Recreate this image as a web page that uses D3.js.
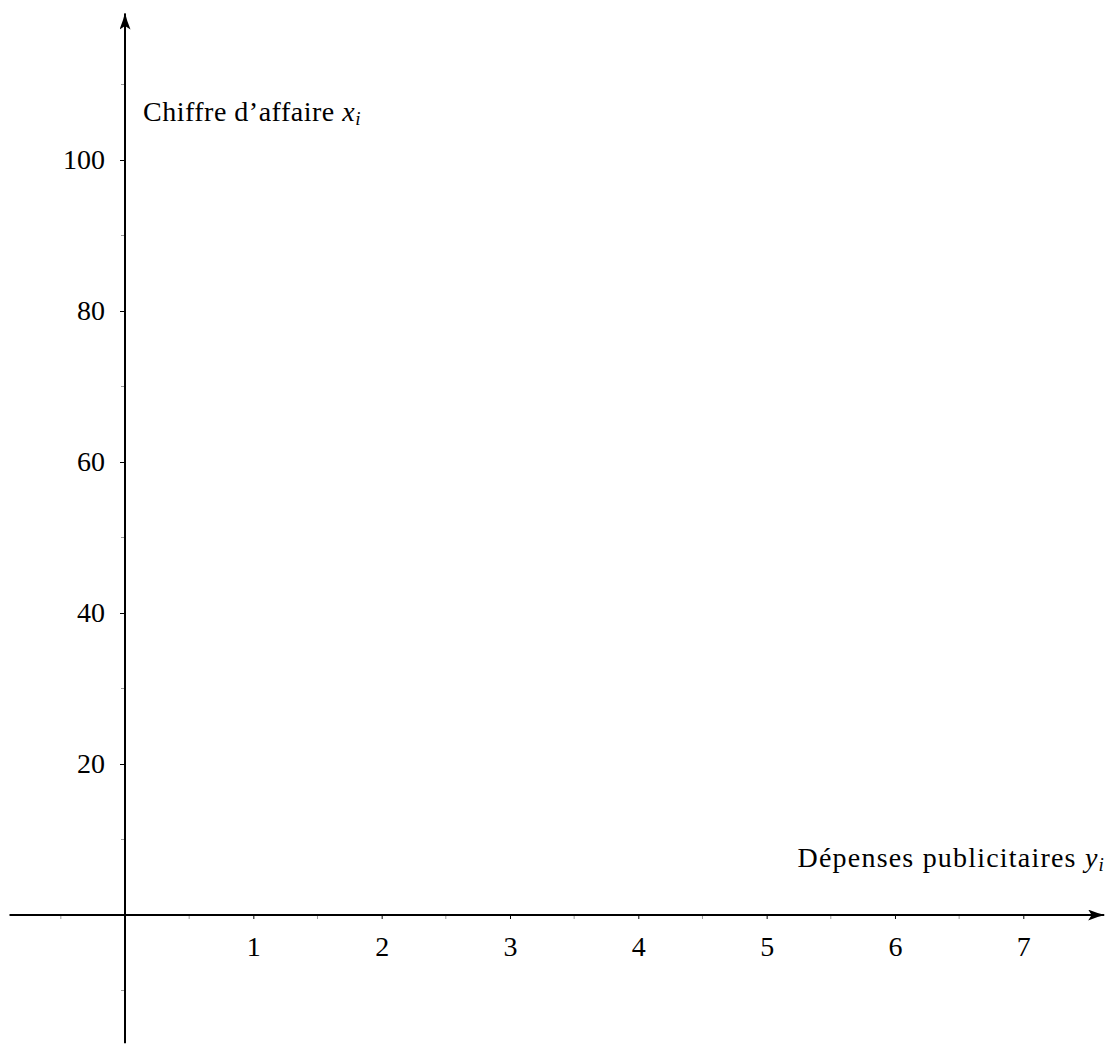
<!DOCTYPE html>
<html>
<head>
<meta charset="utf-8">
<script src="https://cdn.jsdelivr.net/npm/d3@7"></script>
<style>
html,body{margin:0;padding:0;background:#fff;}
svg{display:block;}
text{font-family:"Liberation Serif","DejaVu Serif",serif;fill:#000;}
</style>
</head>
<body>
<svg id="chart" width="1108" height="1044"></svg>
<script>
// Data
const xMajorTicks = [1, 2, 3, 4, 5, 6, 7];
const xMinorTicks = [-0.5, 0.5, 1.5, 2.5, 3.5, 4.5, 5.5, 6.5];
const yMajorTicks = [20, 40, 60, 80, 100];
const yMinorTicks = [-10, 10, 30, 50, 70, 90, 110];
const xDomain = [-0.9, 7.63];
const yDomain = [-17, 119.4];
const xTitle = "Dépenses publicitaires ";
const xTitleVar = "y";
const yTitle = "Chiffre d’affaire ";
const yTitleVar = "x";

const svg = d3.select("#chart");
const x = d3.scaleLinear().domain([0, 7]).range([125, 1023.3]);
const y = d3.scaleLinear().domain([0, 100]).range([915, 160]);

// Arrow marker
const defs = svg.append("defs");
defs.append("marker")
  .attr("id", "arrow")
  .attr("viewBox", "0 0 17 11")
  .attr("refX", 16).attr("refY", 5.5)
  .attr("markerWidth", 17).attr("markerHeight", 11)
  .attr("markerUnits", "userSpaceOnUse")
  .attr("orient", "auto")
  .append("path")
  .attr("d", "M0,0 Q9,3.8 17,5.5 Q9,7.2 0,11 L3.5,5.5 Z")
  .attr("fill", "#000");

// Minor ticks (x)
svg.append("g").selectAll("line").data(xMinorTicks).join("line")
  .attr("x1", d => x(d)).attr("x2", d => x(d))
  .attr("y1", y(0)).attr("y2", y(0) + 4)
  .attr("stroke", "#999").attr("stroke-width", 1);
// Minor ticks (y)
svg.append("g").selectAll("line").data(yMinorTicks).join("line")
  .attr("y1", d => y(d)).attr("y2", d => y(d))
  .attr("x1", x(0) - 4).attr("x2", x(0))
  .attr("stroke", "#999").attr("stroke-width", 1);

// Major axes via d3 axis generators
const xAxis = d3.axisBottom(x).tickValues(xMajorTicks).tickSize(4).tickPadding(17).tickFormat(d3.format("d"));
const gx = svg.append("g").attr("transform", `translate(0,${y(0)})`).call(xAxis);
gx.select(".domain").remove();
gx.selectAll(".tick line").attr("stroke", "#000").attr("stroke-width", 1);
gx.selectAll(".tick text").attr("font-size", 28).attr("font-family", "Liberation Serif").attr("fill", "#000");

const yAxis = d3.axisLeft(y).tickValues(yMajorTicks).tickSize(5).tickPadding(15).tickFormat(d3.format("d"));
const gy = svg.append("g").attr("transform", `translate(${x(0)},0)`).call(yAxis);
gy.select(".domain").remove();
gy.selectAll(".tick line").attr("stroke", "#000").attr("stroke-width", 1);
gy.selectAll(".tick text").attr("font-size", 28).attr("font-family", "Liberation Serif").attr("fill", "#000");

// Axis lines with arrows
svg.append("line")
  .attr("x1", x(xDomain[0])).attr("x2", x(xDomain[1]))
  .attr("y1", y(0)).attr("y2", y(0))
  .attr("stroke", "#000").attr("stroke-width", 2)
  .attr("marker-end", "url(#arrow)");
svg.append("line")
  .attr("x1", x(0)).attr("x2", x(0))
  .attr("y1", y(yDomain[0])).attr("y2", y(yDomain[1]))
  .attr("stroke", "#000").attr("stroke-width", 2)
  .attr("marker-end", "url(#arrow)");

// Titles
const tY = svg.append("text")
  .attr("x", 143).attr("y", 121)
  .attr("font-size", 28).attr("letter-spacing", 0.5);
tY.append("tspan").text(yTitle);
tY.append("tspan").attr("font-style", "italic").text(yTitleVar);
tY.append("tspan").attr("font-style", "italic").attr("font-size", 19).attr("dy", 4).text("i");

const tX = svg.append("text")
  .attr("x", 1105).attr("y", 867)
  .attr("text-anchor", "end")
  .attr("font-size", 28).attr("letter-spacing", 1.2);
tX.append("tspan").text(xTitle);
tX.append("tspan").attr("font-style", "italic").text(xTitleVar);
tX.append("tspan").attr("font-style", "italic").attr("font-size", 19).attr("dy", 4).text("i");
</script>
</body>
</html>
